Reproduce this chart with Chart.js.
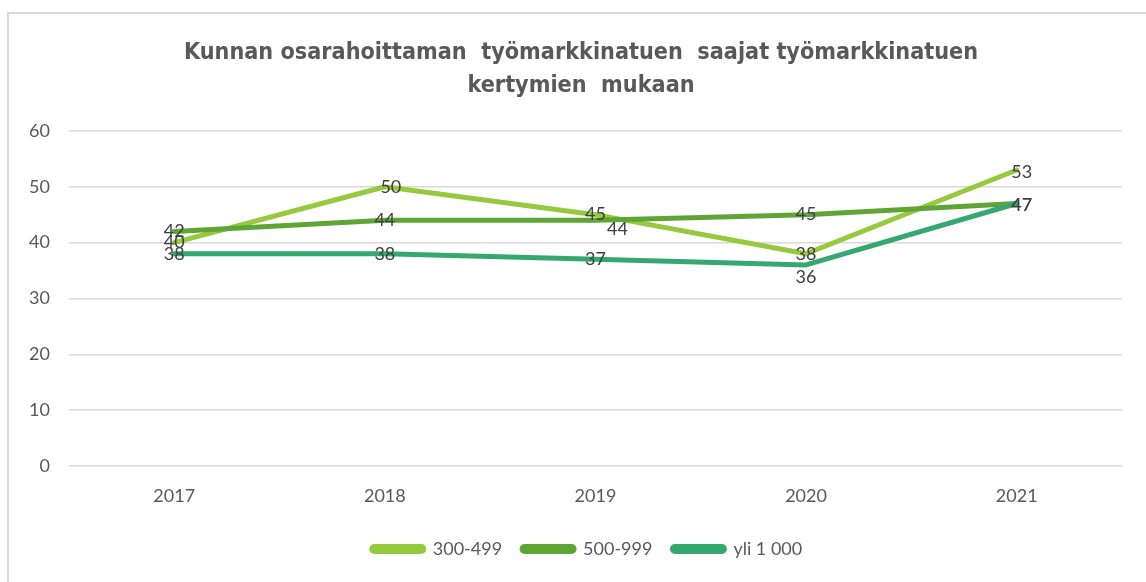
<!DOCTYPE html>
<html>
<head>
<meta charset="utf-8">
<script src="https://cdn.jsdelivr.net/npm/chart.js@4.4.1/dist/chart.umd.min.js"></script>
<style>
  html, body { margin: 0; padding: 0; background: #ffffff; }
  #wrap { position: relative; width: 1146px; height: 582px; overflow: hidden; }
  #frame { position: absolute; left: 7px; top: 12px; width: 1146px; height: 582px;
           border-left: 2px solid #d9d9d9; border-top: 2px solid #d9d9d9; }
  canvas { position: absolute; left: 0; top: 0; }
</style>
</head>
<body>
<div id="wrap">
  <div id="frame"></div>
  <canvas id="c" width="1146" height="582"></canvas>
</div>
<script>
const titleLines = ["Kunnan osarahoittaman  työmarkkinatuen  saajat työmarkkinatuen", "kertymien  mukaan"];
const categories = ["2017", "2018", "2019", "2020", "2021"];
const seriesNames = ["300-499", "500-999", "yli 1 000"];
const series300_499 = [40, 50, 45, 38, 53];
const series500_999 = [42, 44, 44, 45, 47];
const seriesYli1000 = [38, 38, 37, 36, 47];
const yTicks = [0, 10, 20, 30, 40, 50, 60];
const colors = ["#96c93d", "#5fa535", "#34a86e"];

const labelPlugin = {
  id: 'valueLabels',
  afterDatasetsDraw(chart, args, opts) {
    const ctx = chart.ctx;
    ctx.save();
    ctx.font = opts.font;
    ctx.fillStyle = opts.color;
    ctx.textAlign = 'center';
    ctx.textBaseline = 'middle';
    chart.data.datasets.forEach((ds, di) => {
      const meta = chart.getDatasetMeta(di);
      meta.data.forEach((pt, i) => {
        const off = (opts.offsets && opts.offsets[di + '-' + i]) || [0, 0];
        ctx.fillText(String(ds.data[i]), pt.x + off[0], pt.y + off[1]);
      });
    });
    ctx.restore();
  }
};

// shift title and legend horizontally (centred a bit right of canvas centre, as in the original)
const shiftPlugin = {
  id: 'boxShift',
  afterLayout(chart, args, opts) {
    if (chart.titleBlock) { chart.titleBlock.left += opts.title; chart.titleBlock.right += opts.title; }
    if (chart.legend) { chart.legend.left += opts.legend; chart.legend.right += opts.legend; }
  }
};

const allSeries = [series300_499, series500_999, seriesYli1000];
new Chart(document.getElementById('c'), {
  type: 'line',
  data: {
    labels: categories,
    datasets: allSeries.map((d, i) => ({
      label: seriesNames[i],
      data: d,
      borderColor: colors[i],
      backgroundColor: colors[i],
      borderWidth: 5,
      pointRadius: 0,
      tension: 0,
      order: 3 - i,
      borderCapStyle: 'round',
      borderJoinStyle: 'round'
    }))
  },
  plugins: [labelPlugin, shiftPlugin],
  options: {
    responsive: false,
    animation: false,
    layout: { padding: { left: 10, right: 24, top: 37, bottom: 14 } },
    plugins: {
      boxShift: { title: 15, legend: 21 },
      valueLabels: {
        font: '18px Lato, "Open Sans", sans-serif',
        color: '#404040',
        offsets: { '1-2': [22, 9], '2-3': [0, 12], '0-1': [6, 0], '0-4': [5, 2], '1-4': [5, 2], '2-4': [5, 2] }
      },
      title: {
        display: true,
        text: titleLines,
        color: '#595959',
        font: { family: '"Liberation Sans Narrow", "DejaVu Sans Condensed", sans-serif', size: 23.2, weight: 'bold', lineHeight: 1.42 },
        padding: { top: 0, bottom: 28 }
      },
      legend: {
        position: 'bottom',
        labels: {
          color: '#595959',
          font: { family: 'Lato, "Open Sans", sans-serif', size: 18 },
          boxWidth: 52,
          boxHeight: 5,
          padding: 20,
          useBorderRadius: true,
          borderRadius: 2.5,
          sort: (a, b) => a.datasetIndex - b.datasetIndex
        }
      },
      tooltip: { enabled: false }
    },
    scales: {
      x: {
        offset: true,
        grid: { display: false, drawTicks: false },
        border: { display: false },
        ticks: { color: '#595959', font: { family: 'Lato, "Open Sans", sans-serif', size: 18 }, padding: 19 },
        afterFit: (scale) => { scale.height = 54; }
      },
      y: {
        min: 0,
        max: 60,
        afterBuildTicks: (scale) => { scale.ticks = yTicks.map(v => ({ value: v })); },
        grid: { color: '#d9d9d9', lineWidth: 1.5, drawTicks: false },
        border: { display: false },
        ticks: { color: '#595959', font: { family: 'Lato, "Open Sans", sans-serif', size: 18 }, padding: 19 }
      }
    }
  }
});
</script>
</body>
</html>
